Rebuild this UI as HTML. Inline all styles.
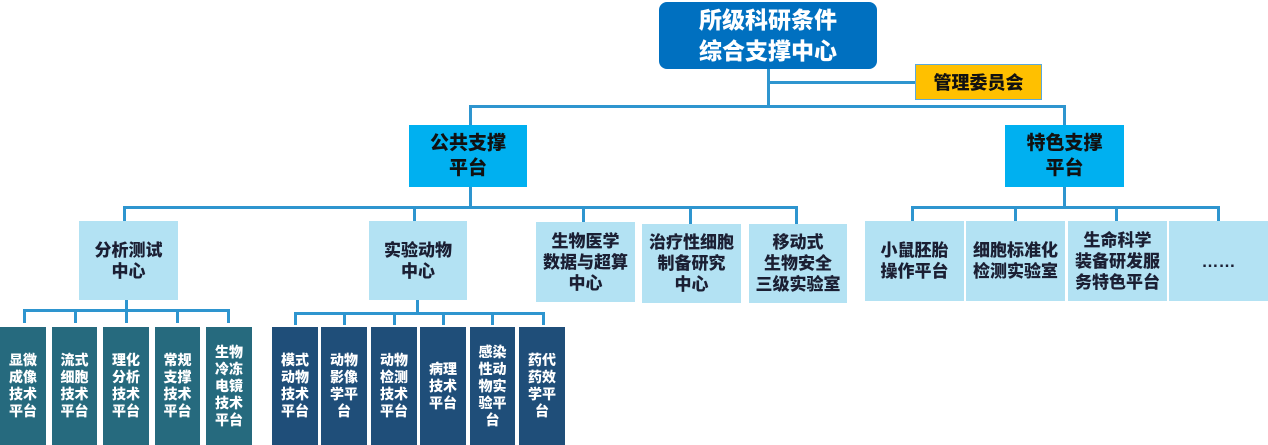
<!DOCTYPE html><html><head><meta charset="utf-8"><style>
body{margin:0;width:1268px;height:445px;background:#fff;position:relative;overflow:hidden;font-family:"Liberation Sans","Noto Sans CJK SC",sans-serif;font-weight:bold}
.b{position:absolute;display:flex;align-items:center;justify-content:center;text-align:center;box-sizing:border-box}
.l{position:absolute;background:#2E95CF}
.lt{background:#B3E2F3;color:#1b1f33;font-size:17px;line-height:21px;font-weight:900}
.tl{background:#266A7E;color:#fff;font-size:14px;line-height:17px;font-weight:900}
.nv{background:#1F4E79;color:#fff;font-size:14px;line-height:17px;font-weight:900}
</style></head><body>
<div class="b" style="left:659px;top:2px;width:218px;height:67px;background:#0070C0;border-radius:8px;color:#fff;font-size:23px;line-height:31px;font-weight:900">所级科研条件<br>综合支撑中心</div>
<div class="b" style="left:915px;top:64px;width:127px;height:36px;background:#FFC000;border:1px solid #5BA9DD;color:#111;font-size:18px;font-weight:900">管理委员会</div>
<div class="l" style="left:767px;top:69px;width:3px;height:39px"></div>
<div class="l" style="left:768px;top:81px;width:147px;height:3px"></div>
<div class="l" style="left:469px;top:105px;width:597px;height:3px"></div>
<div class="l" style="left:469px;top:105px;width:3px;height:20px"></div>
<div class="l" style="left:1063px;top:105px;width:3px;height:20px"></div>
<div class="b" style="left:409px;top:125px;width:118px;height:62px;background:#00B0F0;color:#111;font-size:19px;line-height:25px;font-weight:900">公共支撑<br>平台</div>
<div class="b" style="left:1005px;top:125px;width:119px;height:62px;background:#00B0F0;color:#111;font-size:19px;line-height:25px;font-weight:900">特色支撑<br>平台</div>
<div class="l" style="left:469px;top:187px;width:3px;height:20px"></div>
<div class="l" style="left:123px;top:206px;width:675px;height:3px"></div>
<div class="l" style="left:123px;top:206px;width:3px;height:15px"></div>
<div class="l" style="left:413px;top:206px;width:3px;height:15px"></div>
<div class="l" style="left:582px;top:206px;width:3px;height:16px"></div>
<div class="l" style="left:689px;top:206px;width:3px;height:18px"></div>
<div class="l" style="left:795px;top:206px;width:3px;height:18px"></div>
<div class="l" style="left:1063px;top:187px;width:3px;height:20px"></div>
<div class="l" style="left:911px;top:206px;width:309px;height:3px"></div>
<div class="l" style="left:911px;top:206px;width:3px;height:15px"></div>
<div class="l" style="left:1014px;top:206px;width:3px;height:15px"></div>
<div class="l" style="left:1115px;top:206px;width:3px;height:15px"></div>
<div class="l" style="left:1217px;top:206px;width:3px;height:15px"></div>
<div class="b lt" style="left:79px;top:221px;width:99px;height:79px">分析测试<br>中心</div>
<div class="b lt" style="left:369px;top:221px;width:98px;height:79px">实验动物<br>中心</div>
<div class="b lt" style="left:536px;top:222px;width:99px;height:80px">生物医学<br>数据与超算<br>中心</div>
<div class="b lt" style="left:642px;top:224px;width:99px;height:79px">治疗性细胞<br>制备研究<br>中心</div>
<div class="b lt" style="left:749px;top:224px;width:98px;height:79px">移动式<br>生物安全<br>三级实验室</div>
<div class="b lt" style="left:865px;top:221px;width:99px;height:80px">小鼠胚胎<br>操作平台</div>
<div class="b lt" style="left:966px;top:221px;width:99px;height:80px">细胞标准化<br>检测实验室</div>
<div class="b lt" style="left:1068px;top:221px;width:99px;height:80px">生命科学<br>装备研发服<br>务特色平台</div>
<div class="b lt" style="left:1169px;top:221px;width:99px;height:80px">……</div>
<div class="l" style="left:125px;top:300px;width:3px;height:10px"></div>
<div class="l" style="left:23px;top:309px;width:207px;height:3px"></div>
<div class="l" style="left:23px;top:309px;width:3px;height:14px"></div>
<div class="l" style="left:74px;top:309px;width:3px;height:14px"></div>
<div class="l" style="left:125px;top:309px;width:3px;height:14px"></div>
<div class="l" style="left:176px;top:309px;width:3px;height:14px"></div>
<div class="l" style="left:227px;top:309px;width:3px;height:14px"></div>
<div class="b tl" style="left:0;top:327px;width:46px;height:118px">显微<br>成像<br>技术<br>平台</div>
<div class="b tl" style="left:52px;top:327px;width:45px;height:118px">流式<br>细胞<br>技术<br>平台</div>
<div class="b tl" style="left:103px;top:327px;width:46px;height:118px">理化<br>分析<br>技术<br>平台</div>
<div class="b tl" style="left:155px;top:327px;width:45px;height:118px">常规<br>支撑<br>技术<br>平台</div>
<div class="b tl" style="left:206px;top:327px;width:46px;height:118px">生物<br>冷冻<br>电镜<br>技术<br>平台</div>
<div class="l" style="left:416px;top:300px;width:3px;height:13px"></div>
<div class="l" style="left:294px;top:312px;width:251px;height:3px"></div>
<div class="l" style="left:294px;top:312px;width:3px;height:13px"></div>
<div class="l" style="left:343px;top:312px;width:3px;height:13px"></div>
<div class="l" style="left:393px;top:312px;width:3px;height:13px"></div>
<div class="l" style="left:442px;top:312px;width:3px;height:13px"></div>
<div class="l" style="left:491px;top:312px;width:3px;height:13px"></div>
<div class="l" style="left:542px;top:312px;width:3px;height:13px"></div>
<div class="b nv" style="left:272px;top:327px;width:46px;height:118px">模式<br>动物<br>技术<br>平台</div>
<div class="b nv" style="left:321px;top:327px;width:46px;height:118px">动物<br>影像<br>学平<br>台</div>
<div class="b nv" style="left:371px;top:327px;width:46px;height:118px">动物<br>检测<br>技术<br>平台</div>
<div class="b nv" style="left:420px;top:327px;width:46px;height:118px">病理<br>技术<br>平台</div>
<div class="b nv" style="left:470px;top:327px;width:45px;height:118px">感染<br>性动<br>物实<br>验平<br>台</div>
<div class="b nv" style="left:519px;top:327px;width:46px;height:118px">药代<br>药效<br>学平<br>台</div>
</body></html>
